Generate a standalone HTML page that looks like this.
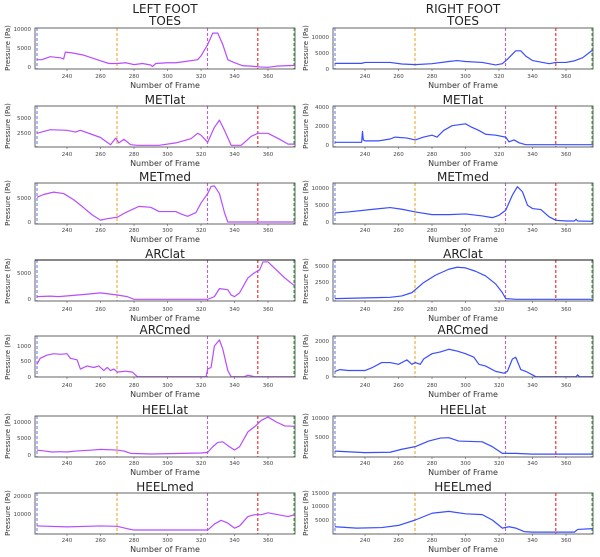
<!DOCTYPE html>
<html><head><meta charset="utf-8"><style>
html,body{margin:0;padding:0;background:#fff;}
svg{display:block;font-family:"DejaVu Sans","Liberation Sans",sans-serif;}
.t{font-size:12px;fill:#222;text-anchor:middle;}
.xl{font-size:8px;fill:#333;text-anchor:middle;}
.yl{font-size:7px;fill:#333;text-anchor:middle;}
.xt{font-size:5.5px;fill:#444;text-anchor:middle;}
.yt{font-size:5.5px;fill:#444;text-anchor:end;}
.L{fill:none;stroke:#b84dff;stroke-width:1.2;stroke-linejoin:round;}
.R{fill:none;stroke:#3a4dff;stroke-width:1.2;stroke-linejoin:round;}
</style></head><body>
<svg width="600" height="557" viewBox="0 0 600 557" xmlns="http://www.w3.org/2000/svg">
<defs>
<g id="fr">
<line x1="37" x2="37" y1="0" y2="41" stroke="#6a7dff" stroke-width="1.1" stroke-dasharray="3,2"/>
<line x1="117" x2="117" y1="0" y2="41" stroke="#f0a830" stroke-width="1.1" stroke-dasharray="3,2"/>
<line x1="207.5" x2="207.5" y1="0" y2="41" stroke="#c060d0" stroke-width="1.1" stroke-dasharray="3,2"/>
<line x1="257.8" x2="257.8" y1="0" y2="41" stroke="#ee2020" stroke-width="1.1" stroke-dasharray="3,2"/>
<line x1="294" x2="294" y1="0" y2="41" stroke="#30b030" stroke-width="1.1" stroke-dasharray="3,2"/>
<path d="M67 41v2M100.5 41v2M134 41v2M167.5 41v2M201 41v2M234.5 41v2M268 41v2" stroke="#555" stroke-width="0.6"/>
</g>
<g id="bx"><rect x="35" y="0" width="260" height="41" fill="none" stroke="#555" stroke-width="0.9"/></g>
</defs>
<text class="t" x="165" y="13">LEFT FOOT</text>
<text class="t" x="463" y="13">RIGHT FOOT</text>

<g transform="translate(0,28)"><text class="t" y="-3" x="165">TOES</text><use href="#fr"/>
<polyline class="L" vector-effect="non-scaling-stroke" transform="matrix(1.675,0,0,-0.0038,-335,39.3)" points="222,2000 225,2000 230,2800 236,2500 238,2200 239,4000 243,3800 250,3200 258,2000 265,1000 270,1000 275,1200 280,700 285,1000 290,600 291,200 293,1000 300,1200 305,1200 310,1500 318,2000 320,3000 324,6000 327,9000 330,9000 333,6000 336,2000 340,1200 345,400 350,300 355,100 360,0 365,300 370,400 376,500"/><use href="#bx"/></g>
<g transform="translate(0,106)"><text class="t" y="-2" x="165">METlat</text><use href="#fr"/>
<polyline class="L" vector-effect="non-scaling-stroke" transform="matrix(1.675,0,0,-0.006,-335,42.3)" points="222,2500 230,3100 240,3000 245,2700 248,3000 255,2300 260,1800 266,600 269,1700 271,900 274,1500 278,600 282,500 295,500 305,900 314,1600 318,2500 320,2200 324,1000 328,3500 331,4700 334,3000 338,500 344,500 350,2000 354,2500 360,2500 367,1500 372,700 376,700"/><use href="#bx"/></g>
<g transform="translate(0,183)"><text class="t" y="-2" x="165">METmed</text><use href="#fr"/>
<polyline class="L" vector-effect="non-scaling-stroke" transform="matrix(1.675,0,0,-0.00474,-335,39)" points="222,5200 226,5800 232,6300 238,6000 244,4700 250,3000 255,1500 260,400 264,700 270,1000 275,2000 280,2800 283,3300 290,3100 295,2200 305,2200 308,1700 312,1200 317,2000 320,4000 324,6000 326,7500 328,7600 331,6000 334,2000 336,0 376,0"/><use href="#bx"/></g>
<g transform="translate(0,260)"><text class="t" y="-2" x="165">ARClat</text><use href="#fr"/>
<polyline class="L" vector-effect="non-scaling-stroke" transform="matrix(1.675,0,0,-0.00534,-335,39.3)" points="222,500 230,600 235,500 250,900 260,1200 270,800 276,500 280,0 324,0 328,500 331,2000 336,1800 338,800 340,500 343,1200 348,4000 352,5000 355,5500 357,7000 360,7000 365,5500 370,4000 376,2500"/><use href="#bx"/><line x1="35" x2="295" y1="0" y2="0" stroke="#111" stroke-width="1"/></g>
<g transform="translate(0,336)"><text class="t" y="-2" x="165">ARCmed</text><use href="#fr"/>
<polyline class="L" vector-effect="non-scaling-stroke" transform="matrix(1.675,0,0,-0.0307,-335,40.7)" points="222,400 224,600 228,700 232,750 236,730 240,750 242,600 246,550 248,250 252,350 256,300 259,350 262,200 264,300 266,200 268,250 270,150 275,180 279,150 282,0 323,0 324,250 326,300 328,1000 331,1200 333,900 336,200 338,0 346,0 348,50 352,0 376,0"/><use href="#bx"/></g>
<g transform="translate(0,416)"><text class="t" y="-2" x="165">HEELlat</text><use href="#fr"/>
<polyline class="L" vector-effect="non-scaling-stroke" transform="matrix(1.675,0,0,-0.0033,-335,39)" points="222,1500 227,1200 231,900 236,1000 240,900 245,1200 255,1500 260,1700 270,1500 274,1200 278,500 290,300 320,600 324,800 327,2500 330,3800 333,4000 337,2500 340,1500 343,2500 348,7000 353,9000 356,10500 360,11500 365,10000 370,8800 376,8700"/><use href="#bx"/></g>
<g transform="translate(0,493)"><text class="t" y="-2" x="165">HEELmed</text><use href="#fr"/>
<polyline class="L" vector-effect="non-scaling-stroke" transform="matrix(1.675,0,0,-0.00187,-335,40.4)" points="222,4000 240,3500 260,4000 270,3800 276,2500 280,1800 324,1800 328,5000 332,7000 336,5500 340,2800 343,4000 348,9000 352,10000 356,10000 360,11000 366,10000 372,9000 376,10000"/><use href="#bx"/></g>

<g transform="translate(298,28)"><text class="t" y="-3" x="165">TOES</text><use href="#fr"/>
<polyline class="R" vector-effect="non-scaling-stroke" transform="matrix(1.675,0,0,-0.00314,-335,40.7)" points="222,1700 238,1700 240,2000 255,2000 262,1500 270,1300 280,1600 290,2300 295,2600 300,2300 310,2000 318,1200 322,1600 325,3000 330,5700 333,5700 336,4000 340,2600 346,2000 350,1600 354,2000 360,2000 365,2500 370,3500 376,6000"/><use href="#bx"/></g>
<g transform="translate(298,106)"><text class="t" y="-2" x="165">METlat</text><use href="#fr"/>
<polyline class="R" vector-effect="non-scaling-stroke" transform="matrix(1.675,0,0,-0.0095,-335,38.7)" points="222,250 238,250 238.5,1400 239,500 240,400 248,400 255,600 258,800 265,700 270,500 275,800 280,1000 283,800 287,1500 292,2000 300,2200 303,1900 308,1500 312,1100 318,1000 324,800 326,300 329,500 332,200 336,0 376,0"/><use href="#bx"/></g>
<g transform="translate(298,183)"><text class="t" y="-2" x="165">METmed</text><use href="#fr"/>
<polyline class="R" vector-effect="non-scaling-stroke" transform="matrix(1.675,0,0,-0.00336,-335,39)" points="222,2700 230,3000 245,3800 255,4300 262,3800 270,3000 280,2200 290,2200 300,2400 310,1800 316,1300 320,2000 324,3500 328,8000 331,10500 334,9000 337,5000 340,4000 345,3700 350,1500 354,500 360,300 365,300 366,800 367,300 376,200"/><use href="#bx"/></g>
<g transform="translate(298,260)"><text class="t" y="-2" x="165">ARClat</text><use href="#fr"/>
<polyline class="R" vector-effect="non-scaling-stroke" transform="matrix(1.675,0,0,-0.00668,-335,39.3)" points="222,100 255,300 262,500 268,1000 275,2500 282,3600 290,4500 295,4800 300,4700 306,4200 312,3500 318,2300 322,1000 324,100 330,0 376,0"/><use href="#bx"/><line x1="35" x2="295" y1="0" y2="0" stroke="#111" stroke-width="1"/></g>
<g transform="translate(298,336)"><text class="t" y="-2" x="165">ARCmed</text><use href="#fr"/>
<polyline class="R" vector-effect="non-scaling-stroke" transform="matrix(1.675,0,0,-0.0177,-335,40.7)" points="222,300 225,400 230,350 240,350 244,500 250,800 255,800 260,700 265,950 268,700 270,800 273,700 275,1000 280,1300 285,1400 290,1550 295,1450 300,1300 305,1100 308,700 312,600 318,300 323,200 325,300 328,1000 330,1100 333,400 336,300 340,100 342,0 366,0 367,100 368,0 376,0"/><use href="#bx"/></g>
<g transform="translate(298,416)"><text class="t" y="-2" x="165">HEELlat</text><use href="#fr"/>
<polyline class="R" vector-effect="non-scaling-stroke" transform="matrix(1.675,0,0,-0.00374,-335,40)" points="222,1300 240,900 255,1000 262,1800 270,2500 278,4000 285,4800 290,4900 296,4000 310,3800 316,2500 322,700 330,700 340,500 376,500"/><use href="#bx"/></g>
<g transform="translate(298,493)"><text class="t" y="-2" x="165">HEELmed</text><use href="#fr"/>
<polyline class="R" vector-effect="non-scaling-stroke" transform="matrix(1.675,0,0,-0.0027,-335,40.5)" points="222,2500 235,2000 250,2200 260,3000 270,5000 280,7500 290,8200 300,7300 310,7000 316,5000 322,2000 326,2500 330,2000 335,700 340,500 365,500 367,1500 376,1800"/><use href="#bx"/></g>

<g class="xl">
<text x="165" y="88">Number of Frame</text><text x="463" y="88">Number of Frame</text>
<text x="165" y="166">Number of Frame</text><text x="463" y="166">Number of Frame</text>
<text x="165" y="242">Number of Frame</text><text x="463" y="242">Number of Frame</text>
<text x="165" y="321">Number of Frame</text><text x="463" y="321">Number of Frame</text>
<text x="165" y="397">Number of Frame</text><text x="463" y="397">Number of Frame</text>
<text x="165" y="475">Number of Frame</text><text x="463" y="475">Number of Frame</text>
<text x="165" y="552">Number of Frame</text><text x="463" y="552">Number of Frame</text>
</g>
<g class="yl">
<text transform="translate(10,48) rotate(-90)">Pressure (Pa)</text><text transform="translate(308,48) rotate(-90)">Pressure (Pa)</text>
<text transform="translate(10,126) rotate(-90)">Pressure (Pa)</text><text transform="translate(308,126) rotate(-90)">Pressure (Pa)</text>
<text transform="translate(10,203) rotate(-90)">Pressure (Pa)</text><text transform="translate(308,203) rotate(-90)">Pressure (Pa)</text>
<text transform="translate(10,281) rotate(-90)">Pressure (Pa)</text><text transform="translate(308,281) rotate(-90)">Pressure (Pa)</text>
<text transform="translate(10,357) rotate(-90)">Pressure (Pa)</text><text transform="translate(308,357) rotate(-90)">Pressure (Pa)</text>
<text transform="translate(10,436) rotate(-90)">Pressure (Pa)</text><text transform="translate(308,436) rotate(-90)">Pressure (Pa)</text>
<text transform="translate(10,513) rotate(-90)">Pressure (Pa)</text><text transform="translate(308,513) rotate(-90)">Pressure (Pa)</text>
</g>
<g class="xt">
<text x="67" y="78">240</text><text x="100.5" y="78">260</text><text x="134" y="78">280</text><text x="167.5" y="78">300</text><text x="201" y="78">320</text><text x="234.5" y="78">340</text><text x="268" y="78">360</text>
<text x="365" y="78">240</text><text x="398.5" y="78">260</text><text x="432" y="78">280</text><text x="465.5" y="78">300</text><text x="499" y="78">320</text><text x="532.5" y="78">340</text><text x="566" y="78">360</text>
<text x="67" y="156">240</text><text x="100.5" y="156">260</text><text x="134" y="156">280</text><text x="167.5" y="156">300</text><text x="201" y="156">320</text><text x="234.5" y="156">340</text><text x="268" y="156">360</text>
<text x="365" y="156">240</text><text x="398.5" y="156">260</text><text x="432" y="156">280</text><text x="465.5" y="156">300</text><text x="499" y="156">320</text><text x="532.5" y="156">340</text><text x="566" y="156">360</text>
<text x="67" y="232">240</text><text x="100.5" y="232">260</text><text x="134" y="232">280</text><text x="167.5" y="232">300</text><text x="201" y="232">320</text><text x="234.5" y="232">340</text><text x="268" y="232">360</text>
<text x="365" y="232">240</text><text x="398.5" y="232">260</text><text x="432" y="232">280</text><text x="465.5" y="232">300</text><text x="499" y="232">320</text><text x="532.5" y="232">340</text><text x="566" y="232">360</text>
<text x="67" y="311">240</text><text x="100.5" y="311">260</text><text x="134" y="311">280</text><text x="167.5" y="311">300</text><text x="201" y="311">320</text><text x="234.5" y="311">340</text><text x="268" y="311">360</text>
<text x="365" y="311">240</text><text x="398.5" y="311">260</text><text x="432" y="311">280</text><text x="465.5" y="311">300</text><text x="499" y="311">320</text><text x="532.5" y="311">340</text><text x="566" y="311">360</text>
<text x="67" y="387">240</text><text x="100.5" y="387">260</text><text x="134" y="387">280</text><text x="167.5" y="387">300</text><text x="201" y="387">320</text><text x="234.5" y="387">340</text><text x="268" y="387">360</text>
<text x="365" y="387">240</text><text x="398.5" y="387">260</text><text x="432" y="387">280</text><text x="465.5" y="387">300</text><text x="499" y="387">320</text><text x="532.5" y="387">340</text><text x="566" y="387">360</text>
<text x="67" y="465">240</text><text x="100.5" y="465">260</text><text x="134" y="465">280</text><text x="167.5" y="465">300</text><text x="201" y="465">320</text><text x="234.5" y="465">340</text><text x="268" y="465">360</text>
<text x="365" y="465">240</text><text x="398.5" y="465">260</text><text x="432" y="465">280</text><text x="465.5" y="465">300</text><text x="499" y="465">320</text><text x="532.5" y="465">340</text><text x="566" y="465">360</text>
<text x="67" y="542">240</text><text x="100.5" y="542">260</text><text x="134" y="542">280</text><text x="167.5" y="542">300</text><text x="201" y="542">320</text><text x="234.5" y="542">340</text><text x="268" y="542">360</text>
<text x="365" y="542">240</text><text x="398.5" y="542">260</text><text x="432" y="542">280</text><text x="465.5" y="542">300</text><text x="499" y="542">320</text><text x="532.5" y="542">340</text><text x="566" y="542">360</text>
</g>
<g class="yt">
<text x="31" y="69">0</text><text x="31" y="50">5000</text><text x="31" y="31">10000</text>
<text x="31" y="135">2500</text><text x="31" y="120">5000</text>
<text x="31" y="224">0</text><text x="31" y="200">5000</text>
<text x="31" y="301">0</text><text x="31" y="275">5000</text>
<text x="31" y="379">0</text><text x="31" y="363">500</text><text x="31" y="348">1000</text>
<text x="31" y="457">0</text><text x="31" y="440">5000</text><text x="31" y="424">10000</text>
<text x="31" y="516">10000</text><text x="31" y="498">20000</text>
<text x="329" y="71">0</text><text x="329" y="55">5000</text><text x="329" y="39">10000</text>
<text x="329" y="147">0</text><text x="329" y="128">2000</text><text x="329" y="109">4000</text>
<text x="329" y="224">0</text><text x="329" y="207">5000</text><text x="329" y="190">10000</text>
<text x="329" y="301">0</text><text x="329" y="284">2500</text><text x="329" y="268">5000</text>
<text x="329" y="379">0</text><text x="329" y="361">1000</text><text x="329" y="343">2000</text>
<text x="329" y="439">5000</text><text x="329" y="420">10000</text>
<text x="329" y="522">5000</text><text x="329" y="508">10000</text><text x="329" y="495">15000</text>
</g>
</svg>
</body></html>
